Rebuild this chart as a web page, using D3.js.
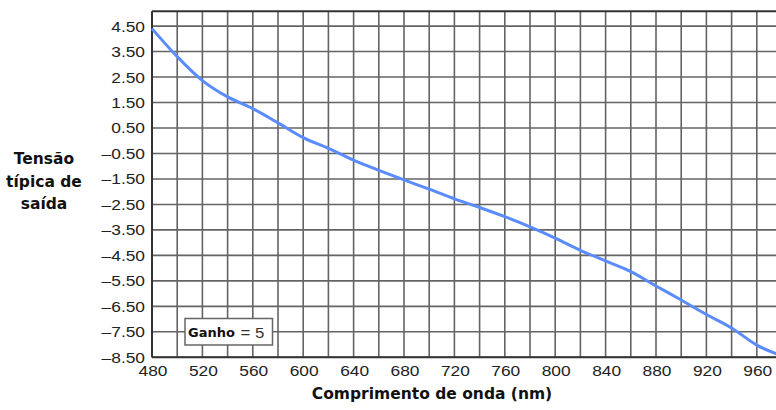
<!DOCTYPE html>
<html>
<head>
<meta charset="utf-8">
<script src="https://cdn.jsdelivr.net/npm/d3@7"></script>
<style>
  html, body { margin: 0; padding: 0; background: #fff; }
  svg { display: block; }
</style>
</head>
<body>
<svg id="chart" width="776" height="410"></svg>
<script>
// Typical output voltage versus wavelength (gain = 5)
const wavelengths = [480, 500, 520, 540, 560, 580, 600, 620, 640, 660, 680, 700, 720,
                     740, 760, 780, 800, 820, 840, 860, 880, 900, 920, 940, 960, 980];
const voltages = [4.40, 3.30, 2.36, 1.72, 1.26, 0.70, 0.12, -0.30, -0.76, -1.16, -1.54, -1.90, -2.28,
                  -2.62, -2.98, -3.38, -3.82, -4.30, -4.72, -5.14, -5.70, -6.25, -6.82, -7.35, -8.02, -8.45];

const xTickValues = [480, 520, 560, 600, 640, 680, 720, 760, 800, 840, 880, 920, 960];
const xGridValues = d3.range(480, 981, 20);
const yTickValues = [4.5, 3.5, 2.5, 1.5, 0.5, -0.5, -1.5, -2.5, -3.5, -4.5, -5.5, -6.5, -7.5, -8.5];
const yTickLabels = ["4.50", "3.50", "2.50", "1.50", "0.50", "–0.50", "–1.50", "–2.50",
                     "–3.50", "–4.50", "–5.50", "–6.50", "–7.50", "–8.50"];

const yTitleLines = ["Tensão", "típica de", "saída"];
const xTitle = "Comprimento de onda (nm)";
const gainLabel = "Ganho";
const gainValue = "= 5";

const svg = d3.select("#chart");
const plot = { left: 152, right: 782, top: 11.3, bottom: 357.3 };
const labelFont = "'Liberation Sans', Arial, sans-serif";
const titleFont = "'DejaVu Sans', Verdana, sans-serif";
const stretch = 1.12; // slightly widened tick lettering

const x = d3.scaleLinear().domain([480, 980]).range([plot.left, plot.right]);
const y = d3.scaleLinear().domain([-8.5, 5.08]).range([plot.bottom, plot.top]);

// grid
const grid = svg.append("g").attr("stroke", "#4a4a4a").attr("stroke-width", 1.6).attr("opacity", 0.85);
grid.selectAll("line.v").data(xGridValues).join("line")
  .attr("class", "v")
  .attr("x1", d => x(d)).attr("x2", d => x(d))
  .attr("y1", plot.top).attr("y2", plot.bottom);
grid.selectAll("line.h").data(yTickValues).join("line")
  .attr("class", "h")
  .attr("x1", plot.left).attr("x2", plot.right)
  .attr("y1", d => y(d)).attr("y2", d => y(d));

// frame: top, left, bottom
const frame = svg.append("g").attr("stroke", "#333").attr("stroke-width", 2).attr("fill", "none");
frame.append("line").attr("x1", plot.left).attr("x2", plot.right).attr("y1", plot.top).attr("y2", plot.top);
frame.append("line").attr("x1", plot.left).attr("x2", plot.left).attr("y1", plot.top).attr("y2", plot.bottom);
frame.append("line").attr("x1", plot.left).attr("x2", plot.right).attr("y1", plot.bottom).attr("y2", plot.bottom);

// tick-label helper: horizontally widened text
function wideText(parent, tx, ty, str, opts) {
  const g = parent.append("g").attr("transform", `translate(${tx},${ty}) scale(${stretch},1)`);
  return g.append("text")
    .attr("font-family", labelFont)
    .attr("text-anchor", opts.anchor || "middle")
    .attr("font-size", opts.size || 15.5)
    .attr("fill", opts.fill || "#222")
    .text(str);
}

function titleText(parent, tx, ty, str, size, anchor) {
  return parent.append("text")
    .attr("x", tx).attr("y", ty)
    .attr("font-family", titleFont)
    .attr("font-weight", "bold")
    .attr("font-size", size)
    .attr("text-anchor", anchor || "middle")
    .attr("fill", "#111")
    .text(str);
}

// y axis labels
const yAxis = svg.append("g");
yTickValues.forEach((v, i) => {
  wideText(yAxis, 145, y(v) + 5.5, yTickLabels[i], { anchor: "end" });
});

// x axis labels
const xAxis = svg.append("g");
xTickValues.forEach(v => {
  wideText(xAxis, x(v) + 1, 375.5, d3.format("d")(v), { anchor: "middle" });
});

// axis titles
const yTitle = svg.append("g");
yTitleLines.forEach((s, i) => {
  titleText(yTitle, 44, 164 + i * 22.5, s, 15.5);
});
titleText(svg, 432, 399, xTitle, 15.5);

// curve
const line = d3.line()
  .x((d, i) => x(wavelengths[i]))
  .y(d => y(d))
  .curve(d3.curveMonotoneX);
svg.append("path")
  .datum(voltages)
  .attr("d", line)
  .attr("fill", "none")
  .attr("stroke", "#5b8cff")
  .attr("stroke-width", 3)
  .attr("stroke-linejoin", "round");

// gain box
const box = svg.append("g");
box.append("rect")
  .attr("x", 185).attr("y", 318.5).attr("width", 87.5).attr("height", 26.5)
  .attr("fill", "#fff").attr("stroke", "#666").attr("stroke-width", 1.5);
titleText(box, 188, 336.5, gainLabel, 13, "start");
wideText(box, 240.5, 337.5, gainValue, { anchor: "start", size: 15, fill: "#333" });
</script>
</body>
</html>
